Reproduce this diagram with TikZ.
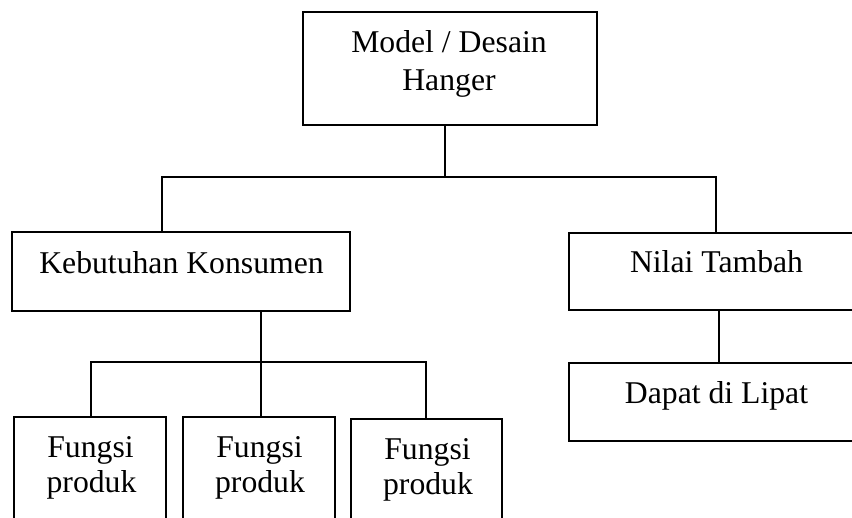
\documentclass[tikz,border=0pt]{standalone}
\usepackage{fontspec}
\setmainfont{Liberation Serif}
\begin{document}
\begin{tikzpicture}[x=1pt,y=-1pt,
  box/.style={draw, line width=1.2pt, rectangle, inner sep=0pt},
  txt/.style={anchor=base, inner sep=0pt, font=\fontsize{31.7}{36}\selectfont},
  conn/.style={line width=1.2pt}]
\useasboundingbox (0,0) rectangle (852,518);
\clip (0,0) rectangle (852,518);
% boxes
\node[box, minimum width=294pt, minimum height=113pt] (top) at (450,68.5) {};
\node[box, minimum width=338pt, minimum height=79pt] (keb) at (181,271.5) {};
\node[box, minimum width=300pt, minimum height=77pt] (nilai) at (719,271.5) {};
\node[box, minimum width=300pt, minimum height=78pt] (dapat) at (719,402) {};
\node[box, minimum width=152pt, minimum height=140pt] (f1) at (90,487) {};
\node[box, minimum width=152pt, minimum height=140pt] (f2) at (259,487) {};
\node[box, minimum width=151pt, minimum height=140pt] (f3) at (426.5,489) {};
% connectors
\coordinate (j1) at (445,177);
\coordinate (jl) at (162,177);
\coordinate (jr) at (716,177);
\draw[conn] (top.south -| j1) -- (j1);
\draw[conn] (keb.north -| jl) -- (jl) -- (jr) -- (nilai.north -| jr);
\draw[conn] (nilai.south) -- (dapat.north);
\coordinate (k) at (261,362);
\coordinate (kl) at (91,362);
\coordinate (kr) at (426,362);
\draw[conn] (keb.south -| k) -- (k);
\draw[conn] (f1.north -| kl) -- (kl) -- (kr) -- (f3.north -| kr);
\draw[conn] (k) -- (f2.north -| k);
% texts
\node[txt] (t1a) at (449,53) {Model / Desain};
\node[txt] (t1b) at (449,90.5) {Hanger};
\node[txt] (tk) at (181.5,274) {Kebutuhan Konsumen};
\node[txt] (tn) at (716.5,273) {Nilai Tambah};
\node[txt] (td) at (716.5,404) {Dapat di Lipat};
\node[txt] (f1a) at (90.5,458) {Fungsi};
\node[txt] (f1b) at (91.5,493) {produk};
\node[txt] (f2a) at (259.5,458) {Fungsi};
\node[txt] (f2b) at (260,493) {produk};
\node[txt] (f3a) at (427.5,460) {Fungsi};
\node[txt] (f3b) at (428,495) {produk};
\end{tikzpicture}
\end{document}
